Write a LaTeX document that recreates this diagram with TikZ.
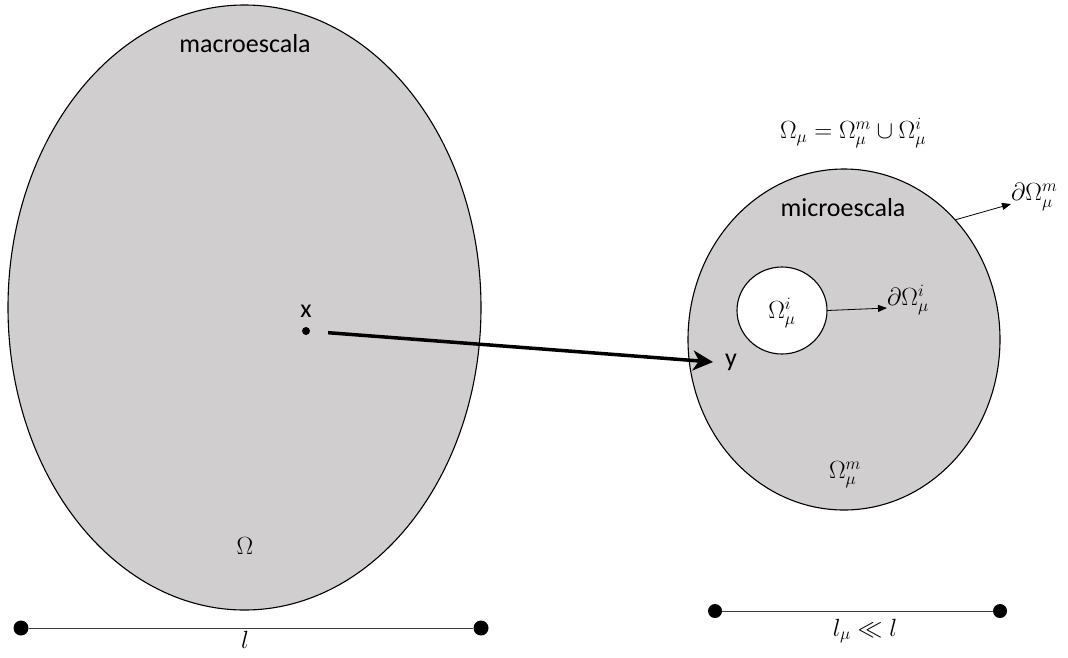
\documentclass[tikz,border=0pt]{standalone}
\usepackage{fontspec}
\setmainfont{Carlito}
\usepackage{amsmath}
\usepackage{amssymb}
\usetikzlibrary{
  arrows.meta,
  shapes.geometric,
  positioning
}
\definecolor{regiongray}{RGB}{208,206,207}

\begin{document}
\begin{tikzpicture}[x=1pt, y=-1pt,
  region/.style={ellipse, draw, line width=1.1pt, fill=regiongray, inner sep=0pt},
  lbl/.style={font=\fontsize{26}{30}\selectfont, inner sep=0pt},
  blob/.style={circle, fill=black, inner sep=0pt, minimum size=#1},
  thinarrow/.style={line width=0.8pt, -{Triangle[length=9pt,width=7pt]}},
  mainarrow/.style={line width=3.5pt, -{Stealth[length=20pt,width=20pt,inset=6pt]}},
  scalebar/.style={line width=1pt, black!75}]
  \useasboundingbox (0,0) rectangle (1068,657);
  % macro domain
  \node[region, minimum width=473pt, minimum height=605pt] (macro) at (244.5,307.5) {};
  \node[lbl] (macrotxt) at (245,44) {macroescala};
  \node[lbl] (omega) at (245,546) {$\Omega$};
  \node[blob=8pt] (xdot) at (306,331) {};
  \node[lbl, above=9pt of xdot] (xlab) {x};
  % micro domain
  \node[region, minimum width=312pt, minimum height=341pt] (micro) at (844,339.5) {};
  \node[region, fill=white, minimum width=90pt, minimum height=87pt] (incl) at (782,310.5) {};
  \node[lbl] (microtxt) at (843,208) {microescala};
  \node[lbl] (incllab) at (782,313) {$\Omega_\mu^i$};
  \node[lbl] (matrixlab) at (845,475) {$\Omega_\mu^m$};
  \node[lbl] (union) at (853,133) {$\Omega_\mu = \Omega_\mu^m \cup \Omega_\mu^i$};
  % boundaries
  \node[lbl, anchor=west] (dilab) at (887,300) {$\partial\Omega_\mu^i$};
  \draw[thinarrow] (incl.east) -- ([yshift=-8pt]dilab.west);
  \node[lbl, anchor=west] (dmlab) at (1011,197) {$\partial\Omega_\mu^m$};
  \draw[thinarrow] (micro.47) -- ([yshift=-7pt]dmlab.west);
  % x -> y
  \coordinate (ytip) at (713,362);
  \node[lbl, right=12pt of ytip] (ylab) {y};
  \draw[mainarrow, shorten <=18pt] (xdot) -- (ytip);
  % length scales
  \node[blob=15pt] (la) at (21,628) {};
  \node[blob=15pt] (lb) at (481,628) {};
  \draw[scalebar] (la) -- (lb);
  \node[lbl, below=3pt of {(245,628)}] (llab) {$l$};
  \node[blob=14pt] (ma) at (715,611) {};
  \node[blob=14pt] (mb) at (1000,611) {};
  \draw[scalebar] (ma) -- (mb);
  \node[lbl] (mlab) at (865,631) {$l_\mu \ll l$};
\end{tikzpicture}
\end{document}
